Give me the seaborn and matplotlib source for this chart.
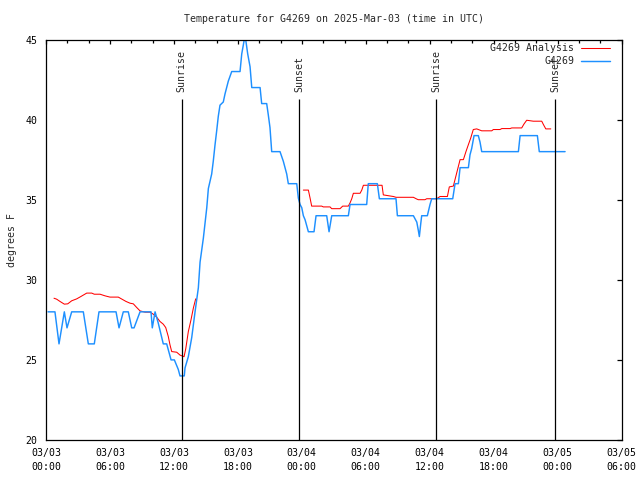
import matplotlib
matplotlib.use("Agg")
import matplotlib.pyplot as plt
import matplotlib.dates as mdates
from matplotlib.lines import Line2D
import seaborn as sns
import pandas as pd
import numpy as np

# ---------------- data ----------------
start = pd.Timestamp("2025-03-03 00:00")

obs_hours = [0.19, 0.84, 1.22, 1.72, 1.97, 2.41, 3.50, 3.97, 4.53, 4.97, 6.57, 6.85, 7.25, 7.72,
             8.04, 8.26, 8.82, 9.85, 9.97, 10.23, 10.53, 11.00, 11.32, 11.73, 12.04, 12.41, 12.57,
             12.97, 13.04, 13.35, 13.67, 13.98, 14.29, 14.45, 14.76, 15.08, 15.23, 15.54, 15.69,
             15.85, 16.01, 16.16, 16.32, 16.63, 16.79, 17.10, 17.42, 18.20, 18.36, 18.60, 18.73,
             18.92, 19.14, 19.30, 20.08, 20.23, 20.70, 20.85, 21.01, 21.17, 21.95, 22.26, 22.58,
             22.73, 23.52, 23.67, 23.83, 23.99, 24.14, 24.30, 24.61, 25.14, 25.33, 26.33, 26.55,
             26.80, 28.36, 28.52, 30.08, 30.23, 31.08, 31.27, 32.83, 32.96, 34.46, 34.78, 34.92,
             35.02, 35.15, 35.24, 35.77, 36.02, 36.18, 38.15, 38.37, 38.68, 38.84, 39.62, 39.77,
             39.93, 40.15, 40.55, 40.71, 40.87, 44.31, 44.47, 46.09, 46.27, 48.69]
obs_temp = [28, 28, 26, 28, 27, 28, 28, 26, 26, 28, 28, 27, 28, 28,
            27, 27, 28, 28, 27, 28, 27.3, 26, 26, 25, 25, 24.4, 24,
            24, 24.5, 25.2, 26.4, 28, 29.5, 31.1, 32.6, 34.5, 35.7, 36.6, 37.4,
            38.4, 39.3, 40.2, 40.9, 41.1, 41.6, 42.4, 43, 43, 44.1, 45, 45,
            44.1, 43.3, 42, 42, 41, 41, 40.3, 39.5, 38, 38, 37.4, 36.6,
            36, 36, 35.1, 34.7, 34.5, 34, 33.75, 33, 33, 34, 34, 33,
            34, 34, 34.7, 34.7, 36, 36, 35.06, 35.06, 34, 34, 33.6, 33.1,
            32.7, 33.5, 34, 34, 34.7, 35.06, 35.06, 36, 36, 37, 37, 37.8,
            38.2, 39, 39, 38.6, 38, 38, 39, 39, 38, 38]

ana_hours_a = [0.75, 1.00, 1.31, 1.72, 2.04, 2.41, 2.88, 3.28, 3.82, 4.29, 4.53, 5.07, 5.53, 6.00,
               6.78, 7.10, 7.50, 7.88, 8.19, 8.51, 8.82, 9.29, 9.76, 10.07, 10.38, 10.69, 11.00,
               11.23, 11.47, 11.63, 11.79, 12.26, 12.57, 12.95, 13.11, 13.35, 13.60, 13.82, 14.04]
ana_temp_a = [28.85, 28.79, 28.65, 28.48, 28.5, 28.69, 28.81, 28.96, 29.17, 29.17, 29.1, 29.1, 29.0,
              28.92, 28.92, 28.8, 28.65, 28.54, 28.5, 28.27, 28.06, 27.98, 27.98, 27.85, 27.67, 27.4,
              27.23, 27.02, 26.46, 25.94, 25.52, 25.48, 25.3, 25.2, 25.7, 26.77, 27.5, 28.23, 28.81]

ana_hours_b = [24.14, 24.61, 24.77, 24.92, 25.86, 26.01, 26.64, 26.80, 27.58, 27.83, 28.36, 28.52,
               28.68, 28.83, 29.46, 29.62, 29.77, 31.52, 31.64, 32.58, 32.83, 34.46, 34.78, 34.92,
               35.55, 35.71, 36.65, 36.96, 37.65, 37.83, 38.21, 38.84, 39.15, 39.40, 39.62, 39.84,
               40.08, 40.40, 40.87, 41.81, 41.96, 42.59, 42.75, 43.53, 43.69, 44.62, 44.84, 45.09,
               45.71, 46.50, 46.65, 46.88, 47.35]
ana_temp_b = [35.6, 35.6, 35.1, 34.6, 34.6, 34.55, 34.55, 34.44, 34.44, 34.6, 34.6, 34.8,
              35.06, 35.4, 35.4, 35.6, 35.9, 35.9, 35.3, 35.2, 35.15, 35.15, 35.04, 35.0,
              35.0, 35.06, 35.06, 35.2, 35.2, 35.8, 35.85, 37.5, 37.5, 38.02, 38.44, 38.85,
              39.38, 39.42, 39.3, 39.3, 39.38, 39.38, 39.44, 39.44, 39.48, 39.48, 39.73, 39.96,
              39.9, 39.9, 39.7, 39.42, 39.42]

sun_hours = [12.73, 23.77, 36.59, 47.78]
sun_labels = ["Sunrise", "Sunset", "Sunrise", "Sunset"]

title = "Temperature for G4269 on 2025-Mar-03 (time in UTC)"
ylabel = "degrees F"
series_names = ["G4269 Analysis", "G4269"]
colors = ["#ff0000", "#1e90ff"]


def to_time(hours):
    return start + pd.to_timedelta(np.array(hours), unit="h")


obs = pd.DataFrame({"time": to_time(obs_hours), "temp": obs_temp})
ana_a = pd.DataFrame({"time": to_time(ana_hours_a), "temp": ana_temp_a})
ana_b = pd.DataFrame({"time": to_time(ana_hours_b), "temp": ana_temp_b})

# ---------------- style ----------------
sns.set_theme(style="white")
plt.rcParams["font.family"] = ["DejaVu Sans Mono"]
plt.rcParams["font.size"] = 7.1
plt.rcParams["axes.edgecolor"] = "black"
plt.rcParams["axes.linewidth"] = 0.9

fig = plt.figure(figsize=(6.4, 4.8), dpi=100)
ax = fig.add_axes([46 / 640, 40 / 480, (621.7 - 46) / 640, (440 - 39.5) / 480])

RED_LW = 0.75
BLUE_LW = 1.05

sns.lineplot(data=ana_a, x="time", y="temp", ax=ax, color=colors[0], lw=RED_LW,
             estimator=None, sort=False)
sns.lineplot(data=ana_b, x="time", y="temp", ax=ax, color=colors[0], lw=RED_LW,
             estimator=None, sort=False)
sns.lineplot(data=obs, x="time", y="temp", ax=ax, color=colors[1], lw=BLUE_LW,
             estimator=None, sort=False)

for h, lab in zip(sun_hours, sun_labels):
    t = to_time([h])[0]
    ax.plot([t, t], [20, 41.3], color="black", lw=0.9, solid_capstyle="butt")
    ax.text(t, 41.75, lab, rotation=90, ha="center", va="bottom", fontsize=7.1)

ax.set_xlim(start, start + pd.Timedelta(hours=54))
ax.set_ylim(20, 45)
ax.set_yticks([20, 25, 30, 35, 40, 45])
ax.xaxis.set_major_locator(mdates.HourLocator(byhour=[0, 6, 12, 18]))
ax.xaxis.set_minor_locator(mdates.HourLocator(byhour=range(0, 24, 2)))
ax.xaxis.set_major_formatter(mdates.DateFormatter("%m/%d\n%H:%M"))
ax.tick_params(axis="both", which="both", direction="in", top=True, right=True,
               colors="black", labelsize=7.1)
ax.tick_params(axis="x", which="major", length=3, width=0.9, pad=6)
ax.tick_params(axis="x", which="minor", length=1.8, width=0.9)
ax.tick_params(axis="y", which="major", length=3.5, width=0.9, pad=6)
ax.set_xlabel("")
ax.set_ylabel("")
for lbl in ax.get_xticklabels():
    lbl.set_linespacing(1.5)

fig.text(333.9 / 640, 1 - 19 / 480, title, ha="center", va="center", fontsize=7.1)
fig.text(12 / 640, 0.5, ylabel, rotation=90, ha="center", va="center", fontsize=7.1)

handles = [Line2D([], [], color=colors[0], lw=RED_LW), Line2D([], [], color=colors[1], lw=BLUE_LW)]
ax.legend(handles, series_names, loc="upper right",
          bbox_to_anchor=((610 - 46) / 575.7, (440 - 43) / 400.5),
          frameon=False, markerfirst=False, handlelength=2.9, handletextpad=0.7,
          labelspacing=0.35, borderaxespad=0, borderpad=0, fontsize=7.1)

fig.savefig("out.png", dpi=100)
